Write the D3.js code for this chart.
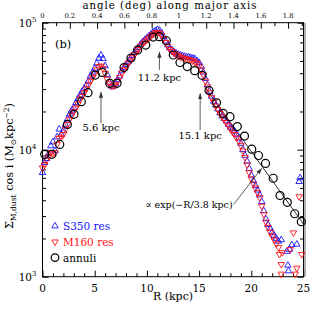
<!DOCTYPE html>
<html><head><meta charset="utf-8">
<script src="https://cdn.jsdelivr.net/npm/d3@7"></script>
<style>
body{margin:0;background:#fff}
svg{display:block}
text{font-family:"DejaVu Serif",serif;fill:#000}
</style>
</head><body>
<svg id="c" width="314" height="315"></svg>
<script>
// S350-resolution profile: [R (kpc), Sigma (Msun/kpc^2)]
const s350 = [
[0.0,6600],[0.2,7900],[0.4,8500],[0.6,9300],[0.8,10700],[1.0,11500],[1.2,9800],[1.4,12600],[1.6,14500],[1.8,13200],
[2.0,14100],[2.2,15800],[2.4,17400],[2.6,19100],[2.8,20400],[3.0,21400],[3.2,23400],[3.4,25100],[3.6,26900],[3.8,28800],
[4.0,30200],[4.2,32400],[4.4,34700],[4.6,38000],[4.8,40700],[5.0,43700],[5.2,47900],[5.4,52500],[5.6,55500],[5.8,52000],
[6.0,45700],[6.2,38900],[6.4,33900],[6.6,31600],[6.8,31600],[7.0,33100],[7.2,35500],[7.4,38000],[7.6,41700],[7.8,44200],
[8.0,46800],[8.2,49000],[8.4,51900],[8.6,55000],[8.8,58200],[9.0,61000],[9.2,63800],[9.4,67600],[9.6,70800],[9.8,73300],
[10.0,75900],[10.2,78500],[10.4,81300],[10.6,84100],[10.8,86100],[11.0,88100],[11.2,87100],[11.4,83200],[11.6,77600],[11.8,71600],
[12.0,66800],[12.2,63100],[12.4,61000],[12.6,58900],[12.8,57500],[13.0,56200],[13.2,55600],[13.4,55000],[13.6,54300],[13.8,53700],
[14.0,53700],[14.2,53100],[14.4,52500],[14.6,51900],[14.8,50100],[15.0,48400],[15.2,45200],[15.4,40700],[15.6,36300],[15.8,32400],
[16.0,28800],[16.2,26300],[16.4,24000],[16.6,22400],[16.8,20900],[17.0,19500],[17.2,18400],[17.4,17600],[17.6,16800],[17.8,15800],
[18.0,15000],[18.2,14600],[18.4,14000],[18.6,13200],[18.8,12300],[19.0,11200],[19.2,10000],[19.4,9000],[19.6,8100],[19.8,7100],
[20.0,6300],[20.2,5700],[20.4,5200],[20.6,4800],[20.8,4400],[21.0,3900],[21.2,3300],[21.4,2850],[21.6,2570],[21.8,2400],
[22.0,2240],[22.2,2110],[22.4,2000],[22.6,1900],
[22.87,1950],[23.4,1580],[23.66,1640],[23.88,1780],[24.36,1800],[23.5,1230],[23.56,1110],[24.68,6000],[24.58,5600]
];
// M160-resolution profile
const m160 = [
[0.0,7200],[0.2,7600],[0.4,8300],[0.6,8900],[0.8,9500],[1.0,9300],[1.2,9500],[1.4,11000],[1.6,12300],[1.8,12600],
[2.0,13200],[2.2,14500],[2.4,15800],[2.6,17400],[2.8,18600],[3.0,20000],[3.2,21400],[3.4,22900],[3.6,25100],[3.8,26300],
[4.0,28200],[4.2,30200],[4.4,32400],[4.6,34700],[4.8,37200],[5.0,39800],[5.2,42700],[5.4,45200],[5.6,45700],[5.8,43700],
[6.0,39800],[6.2,35900],[6.4,33100],[6.6,31600],[6.8,31600],[7.0,32400],[7.2,34700],[7.4,37200],[7.6,40300],[7.8,42700],
[8.0,45200],[8.2,47900],[8.4,50100],[8.6,53100],[8.8,56200],[9.0,58900],[9.2,61700],[9.4,65300],[9.6,68400],[9.8,70800],
[10.0,73300],[10.2,75900],[10.4,78500],[10.6,81300],[10.8,83200],[11.0,84100],[11.2,83200],[11.4,79400],[11.6,75000],[11.8,70000],
[12.0,65300],[12.2,61700],[12.4,59600],[12.6,57500],[12.8,56200],[13.0,55000],[13.2,53700],[13.4,53100],[13.6,52500],[13.8,51900],
[14.0,51300],[14.2,50700],[14.4,50100],[14.6,49000],[14.8,47900],[15.0,45700],[15.2,42700],[15.4,38900],[15.6,34700],[15.8,31300],
[16.0,28200],[16.2,25700],[16.4,23700],[16.6,22100],[16.8,20700],[17.0,19300],[17.2,18200],[17.4,17400],[17.6,16400],[17.8,15500],
[18.0,14600],[18.2,13800],[18.4,13200],[18.6,12400],[18.8,11700],[19.0,10800],[19.2,9800],[19.4,8700],[19.6,7600],[19.8,6600],
[20.0,5900],[20.2,5400],[20.4,5000],[20.6,4600],[20.8,4200],[21.0,3600],[21.2,3100],[21.4,2700],[21.6,2450],[21.8,2240],
[22.0,2090],[22.2,1950],[22.4,1820],[22.6,1700],
[22.7,1500],[22.87,1250],[22.97,1550],[23.72,1640],[24.04,2220],[24.36,1170],[24.2,1050],[22.87,1050],[24.83,1500],[24.58,4270]
];
// Annuli
const annuli = [
[0.21,9200],[0.91,9200],[1.65,11000],[2.38,15800],[3.02,19000],[3.72,23900],[4.36,28100],[5.06,38700],[5.73,40600],[6.44,33300],
[7.14,33300],[7.81,44300],[8.48,52700],[9.12,61000],[9.89,66700],[10.61,77100],[11.19,77600],[11.86,72100],[12.53,55700],[13.17,48600],
[13.87,45100],[14.58,41900],[15.28,38500],[15.95,29200],[16.67,23400],[17.32,19300],[17.96,18200],[18.66,15200],[19.35,12800],[20.04,10100],
[20.69,9000],[21.36,7800],[22.10,5960],[22.75,4350],[23.45,3850],[24.16,3130],[24.79,2710]
];
const xMajorTicks = [0,5,10,15,20,25];
const angleMajorTicks = [0,0.2,0.4,0.6,0.8,1,1.2,1.4,1.6,1.8];
const yMajorExp = [3,4,5];
const kpcPerDeg = 13.07;
const fitScaleLength = 3.8, fitAmplitude = 1.87e6, fitRange = [15.5, 25];
const peakMarks = [
  {R:5.6, label:"5.6 kpc", tip:28600, tail:16200, text:14000},
  {R:11.2, label:"11.2 kpc", tip:59100, tail:42500, text:34700},
  {R:15.1, label:"15.1 kpc", tip:27800, tail:14300, text:12100}
];
const fitNote = {label:"\u221d exp(\u2212R/3.8 kpc)", tipR:21.0, tip:7150, tailR:18.31, tail:3710};

const svg = d3.select("#c");
const L=42.5, R=303.5, T=22.7, B=276.7;
const x = d3.scaleLinear().domain([0,25]).range([L,R]);
const xa = d3.scaleLinear().domain([0,25/kpcPerDeg]).range([L,R]);
const y = d3.scaleLog().domain([1e3,1e5]).range([B,T]);

// axes (inward ticks)
function noDomain(g){g.select(".domain").remove(); g.selectAll("line").attr("stroke","#000").attr("stroke-width",1);}
const xMinor = d3.range(0,26,1).filter(v=>v%5!==0);
svg.append("g").attr("transform",`translate(0,${B})`).call(d3.axisBottom(x).tickValues(xMajorTicks).tickSize(-6).tickFormat("")).call(noDomain);
svg.append("g").attr("transform",`translate(0,${B})`).call(d3.axisBottom(x).tickValues(xMinor).tickSize(-3.5).tickFormat("")).call(noDomain);
const aMinor = d3.range(1,20,2).map(v=>v/10);
svg.append("g").attr("transform",`translate(0,${T})`).call(d3.axisTop(xa).tickValues(angleMajorTicks).tickSize(-6).tickFormat("")).call(noDomain);
svg.append("g").attr("transform",`translate(0,${T})`).call(d3.axisTop(xa).tickValues(aMinor).tickSize(-3.5).tickFormat("")).call(noDomain);
const yMaj = yMajorExp.map(e=>Math.pow(10,e));
const yMin = y.ticks().filter(v=>yMaj.indexOf(v)<0);
[[d3.axisLeft,L],[d3.axisRight,R]].forEach(([ax,pos])=>{
  svg.append("g").attr("transform",`translate(${pos},0)`).call(ax(y).tickValues(yMaj).tickSize(-6).tickFormat("")).call(noDomain);
  svg.append("g").attr("transform",`translate(${pos},0)`).call(ax(y).tickValues(yMin).tickSize(-3.5).tickFormat("")).call(noDomain);
});
svg.append("rect").attr("x",L).attr("y",T).attr("width",R-L).attr("height",B-T).attr("fill","none").attr("stroke","#000").attr("stroke-width",1);
svg.append("line").attr("x1",R+1.5).attr("x2",R+1.5).attr("y1",T).attr("y2",B).attr("stroke","#999").attr("stroke-width",1.5);

// tick labels
svg.append("g").selectAll("text").data(xMajorTicks).join("text")
  .attr("x",d=>x(d)).attr("y",B+15.5).attr("text-anchor","middle").attr("font-size",10.5).text(d=>d);
svg.append("g").selectAll("text").data(angleMajorTicks).join("text")
  .attr("x",d=>xa(d)).attr("y",T-4.6).attr("text-anchor","middle").attr("font-size",6.8).text(d=>d);
const yl = svg.append("g").selectAll("text").data(yMajorExp).join("text")
  .attr("x",L-6).attr("y",d=>y(Math.pow(10,d))+4).attr("text-anchor","end").attr("font-size",10.5);
yl.append("tspan").text("10");
yl.append("tspan").attr("font-size",7).attr("dy",-5).text(d=>d);

// axis titles
svg.append("text").attr("x",(L+R)/2).attr("y",300).attr("text-anchor","middle").attr("font-size",11).text("R (kpc)");
svg.append("text").attr("x",(L+R)/2-3).attr("y",8.8).attr("text-anchor","middle").attr("font-size",10.2).attr("letter-spacing",1).text("angle (deg) along major axis");
const yt = svg.append("text").attr("transform","translate(13,166) rotate(-90)").attr("text-anchor","middle").attr("font-size",11.3);
yt.append("tspan").text("\u03a3");
yt.append("tspan").attr("font-size",7.5).attr("dy",2.5).text("M,dust");
yt.append("tspan").attr("dy",-2.5).text(" cos i (M");
yt.append("tspan").attr("font-size",7.5).attr("dy",2.5).text("\u2299");
yt.append("tspan").attr("dy",-2.5).text("kpc");
yt.append("tspan").attr("font-size",7.5).attr("dy",-4).text("\u22122");
yt.append("tspan").attr("dy",4).text(")");

svg.append("text").attr("x",55).attr("y",48).attr("font-size",11.5).text("(b)");

// fit line
const fitLine = d3.line().x(d=>x(d)).y(d=>y(fitAmplitude*Math.exp(-d/fitScaleLength)));
svg.append("path").attr("d",fitLine(fitRange)).attr("fill","none").attr("stroke","#000").attr("stroke-width",0.8);

// markers
const triUp = d3.symbol().type(d3.symbolTriangle).size(18)();
const g = svg.append("g");
g.selectAll("path.b").data(s350).join("path").attr("class","b").attr("d",triUp)
  .attr("transform",d=>`translate(${x(d[0])},${y(d[1])})`).attr("fill","none").attr("stroke","#1414ff").attr("stroke-width",0.9);
g.selectAll("path.r").data(m160).join("path").attr("class","r").attr("d",triUp)
  .attr("transform",d=>`translate(${x(d[0])},${y(d[1])}) rotate(180)`).attr("fill","none").attr("stroke","#ff1414").attr("stroke-width",0.9);
g.selectAll("circle").data(annuli).join("circle").attr("cx",d=>x(d[0])).attr("cy",d=>y(d[1])).attr("r",4)
  .attr("fill","none").attr("stroke","#000").attr("stroke-width",1.2);

// arrows
svg.append("defs").append("marker").attr("id","ah").attr("viewBox","0 0 10 10").attr("refX",10).attr("refY",5)
  .attr("markerWidth",6).attr("markerHeight",6).attr("markerUnits","userSpaceOnUse").attr("orient","auto")
  .append("path").attr("d","M0,1.5L10,5L0,8.5Z").attr("fill","#333");
peakMarks.forEach(p=>{
  svg.append("line").attr("x1",x(p.R)).attr("x2",x(p.R)).attr("y1",y(p.tail)).attr("y2",y(p.tip))
    .attr("stroke","#333").attr("stroke-width",0.8).attr("marker-end","url(#ah)");
  svg.append("text").attr("x",x(p.R)).attr("y",y(p.text)).attr("text-anchor","middle").attr("font-size",10).text(p.label);
});
svg.append("line").attr("x1",x(fitNote.tailR)).attr("y1",y(fitNote.tail)).attr("x2",x(fitNote.tipR)).attr("y2",y(fitNote.tip))
  .attr("stroke","#333").attr("stroke-width",0.8).attr("marker-end","url(#ah)");
svg.append("text").attr("x",x(fitNote.tailR)-1).attr("y",y(fitNote.tail)+4).attr("text-anchor","end").attr("font-size",9.5).text(fitNote.label);

// legend
const legend = [
  {label:"S350 res", color:"#1414ff", sym:"up"},
  {label:"M160 res", color:"#ff1414", sym:"down"},
  {label:"annuli", color:"#000", sym:"circle"}
];
legend.forEach((d,i)=>{
  const ly = 226 + i*15.8, lx = 55;
  if(d.sym==="circle") svg.append("circle").attr("cx",lx).attr("cy",ly).attr("r",3.8).attr("fill","none").attr("stroke",d.color).attr("stroke-width",1.2);
  else svg.append("path").attr("d",triUp).attr("transform",`translate(${lx},${ly})${d.sym==="down"?" rotate(180)":""}`)
        .attr("fill","none").attr("stroke",d.color).attr("stroke-width",0.9);
  svg.append("text").attr("x",63).attr("y",ly+4).attr("font-size",10.5).style("fill",d.color).text(d.label);
});
</script>
</body></html>
